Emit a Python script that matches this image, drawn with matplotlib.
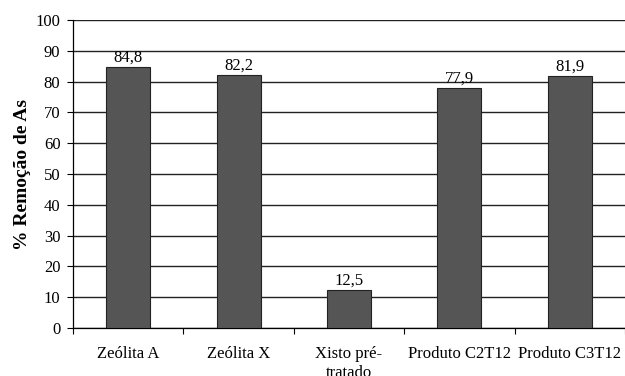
import numpy as np
import matplotlib.pyplot as plt

plt.rcParams['font.family'] = ['Liberation Serif', 'DejaVu Serif']

categorias = ["Zeólita A", "Zeólita X", "Xisto pré-\ntratado", "Produto C2T12", "Produto C3T12"]
remocao = [84.8, 82.2, 12.5, 77.9, 81.9]
rotulos = ["84,8", "82,2", "12,5", "77,9", "81,9"]

fig = plt.figure(figsize=(6.25, 3.76), dpi=100)
ax = fig.add_axes([73/625, 48/376, 552/625, 308/376])

x = np.arange(len(categorias))
ax.bar(x, remocao, width=0.4, color='#555555', edgecolor='#222222', linewidth=0.8, zorder=3)
for xi, v, r in zip(x, remocao, rotulos):
    ax.text(xi, v + 0.4, r, ha='center', va='bottom', fontsize=12, zorder=4)

ax.set_ylim(0, 100)
ax.set_xlim(-0.5, -0.5 + 552/112)
ax.set_yticks(np.arange(0, 101, 10))
ax.yaxis.grid(True, color='#222222', linewidth=1.0, zorder=0)
ax.tick_params(axis='y', labelsize=12, direction='out', length=4, width=0.8, pad=5)

# etiquetas no centro, marcas de divisão entre categorias
ax.set_xticks(x)
ax.set_xticklabels(categorias, fontsize=12, linespacing=1.25)
ax.tick_params(axis='x', which='major', length=0, pad=13)
ax.set_xticks(np.arange(-0.5, len(categorias), 1), minor=True)
ax.tick_params(axis='x', which='minor', direction='out', length=4, width=0.8)
for lbl in ax.get_xticklabels():
    lbl.set_verticalalignment('top')

ax.set_ylabel("% Remoção de As", fontsize=14, fontweight='bold', labelpad=3)

for s in ['top', 'right']:
    ax.spines[s].set_visible(False)
ax.spines['left'].set_linewidth(0.9)
ax.spines['bottom'].set_linewidth(0.9)
ax.set_axisbelow(True)

fig.savefig("out.png", dpi=100)
